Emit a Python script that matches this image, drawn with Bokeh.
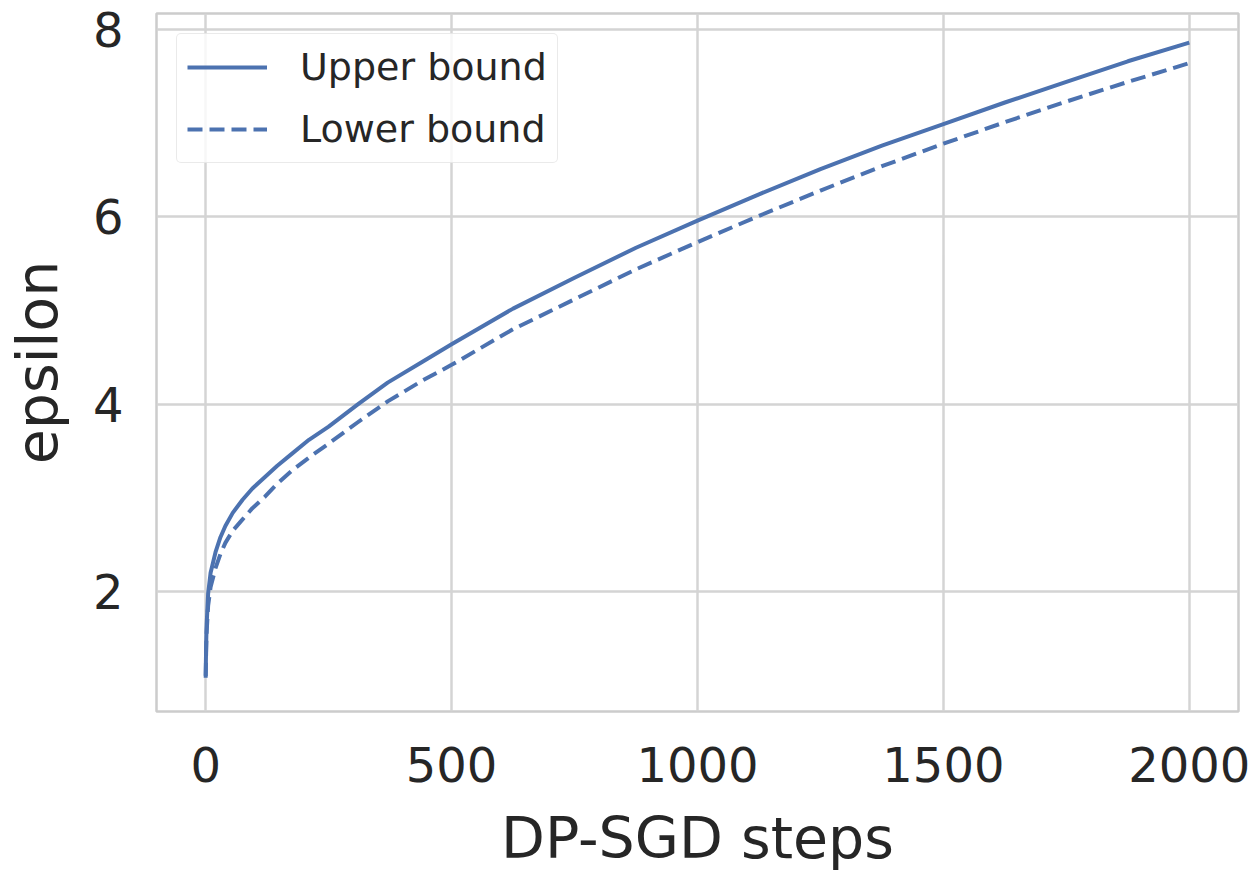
from bokeh.plotting import figure
from bokeh.models import Range1d, FixedTicker, Legend, LegendItem
from bokeh.embed import file_html
from bokeh.resources import INLINE

# Data
steps = [0, 1, 2, 5, 10, 20, 30, 40, 55, 75, 95, 120, 145, 175, 210, 250, 310,
         370, 440, 500, 625, 750, 875, 1000, 1125, 1250, 1375, 1500, 1625, 1750,
         1875, 2000]
upper_bound = [1.10, 1.45, 1.65, 1.98, 2.20, 2.42, 2.58, 2.70, 2.84, 2.98, 3.10,
               3.22, 3.34, 3.47, 3.62, 3.76, 4.00, 4.23, 4.45, 4.64, 5.02, 5.35,
               5.67, 5.96, 6.24, 6.51, 6.76, 6.99, 7.22, 7.44, 7.66, 7.86]
lower_bound = [1.08, 1.38, 1.57, 1.85, 2.05, 2.25, 2.40, 2.52, 2.65, 2.77, 2.89,
               3.01, 3.15, 3.29, 3.43, 3.58, 3.81, 4.03, 4.25, 4.42, 4.80, 5.12,
               5.44, 5.73, 6.01, 6.28, 6.54, 6.78, 7.01, 7.23, 7.44, 7.64]
x_ticks = [0, 500, 1000, 1500, 2000]
y_ticks = [2, 4, 6, 8]
series_labels = ["Upper bound", "Lower bound"]

BLUE = "#4C72B0"
TEXT = "#262626"
GRID = "#d4d4d4"

p = figure(width=1258, height=873,
           x_range=Range1d(-100, 2100), y_range=Range1d(0.72, 8.17),
           output_backend="svg", toolbar_location=None,
           min_border_left=155, min_border_right=20,
           min_border_top=13, min_border_bottom=161)

p.background_fill_color = "white"
p.border_fill_color = "white"
p.outline_line_color = "#cccccc"
p.outline_line_width = 2.5

r1 = p.line(steps, upper_bound, line_color=BLUE, line_width=4, line_join="round")
r2 = p.line(steps, lower_bound, line_color=BLUE, line_width=4, line_dash="15 7",
            line_join="round")

p.xaxis.ticker = FixedTicker(ticks=x_ticks)
p.yaxis.ticker = FixedTicker(ticks=y_ticks)
p.xaxis.axis_label = "DP-SGD steps"
p.yaxis.axis_label = "epsilon"

for ax in (p.xaxis[0], p.yaxis[0]):
    ax.axis_line_color = None
    ax.major_tick_line_color = None
    ax.minor_tick_line_color = None
    ax.major_tick_out = 0
    ax.major_tick_in = 0
    ax.major_label_text_font = "DejaVu Sans"
    ax.major_label_text_font_size = "48px"
    ax.major_label_text_color = TEXT
    ax.axis_label_text_font = "DejaVu Sans"
    ax.axis_label_text_font_size = "57px"
    ax.axis_label_text_font_style = "normal"
    ax.axis_label_text_color = TEXT

p.xaxis.major_label_standoff = 35
p.yaxis.major_label_standoff = 33
p.xaxis.axis_label_standoff = 20
p.yaxis.axis_label_standoff = 20

for g in (p.xgrid[0], p.ygrid[0]):
    g.grid_line_color = GRID
    g.grid_line_width = 2.5

legend = Legend(items=[LegendItem(label=series_labels[0], renderers=[r1]),
                       LegendItem(label=series_labels[1], renderers=[r2])],
                location="top_left")
legend.margin = 20
legend.padding = 10
legend.spacing = 16
legend.glyph_width = 80
legend.glyph_height = 46
legend.label_height = 46
legend.label_standoff = 33
legend.label_text_font = "DejaVu Sans"
legend.label_text_font_size = "38px"
legend.label_text_color = TEXT
legend.border_line_color = "#d6d6d6"
legend.border_line_width = 1.5
legend.background_fill_color = "white"
legend.background_fill_alpha = 0.8
if "border_radius" in Legend.properties():
    legend.border_radius = 5
p.add_layout(legend)

open("out.html", "w").write(file_html(p, INLINE))
